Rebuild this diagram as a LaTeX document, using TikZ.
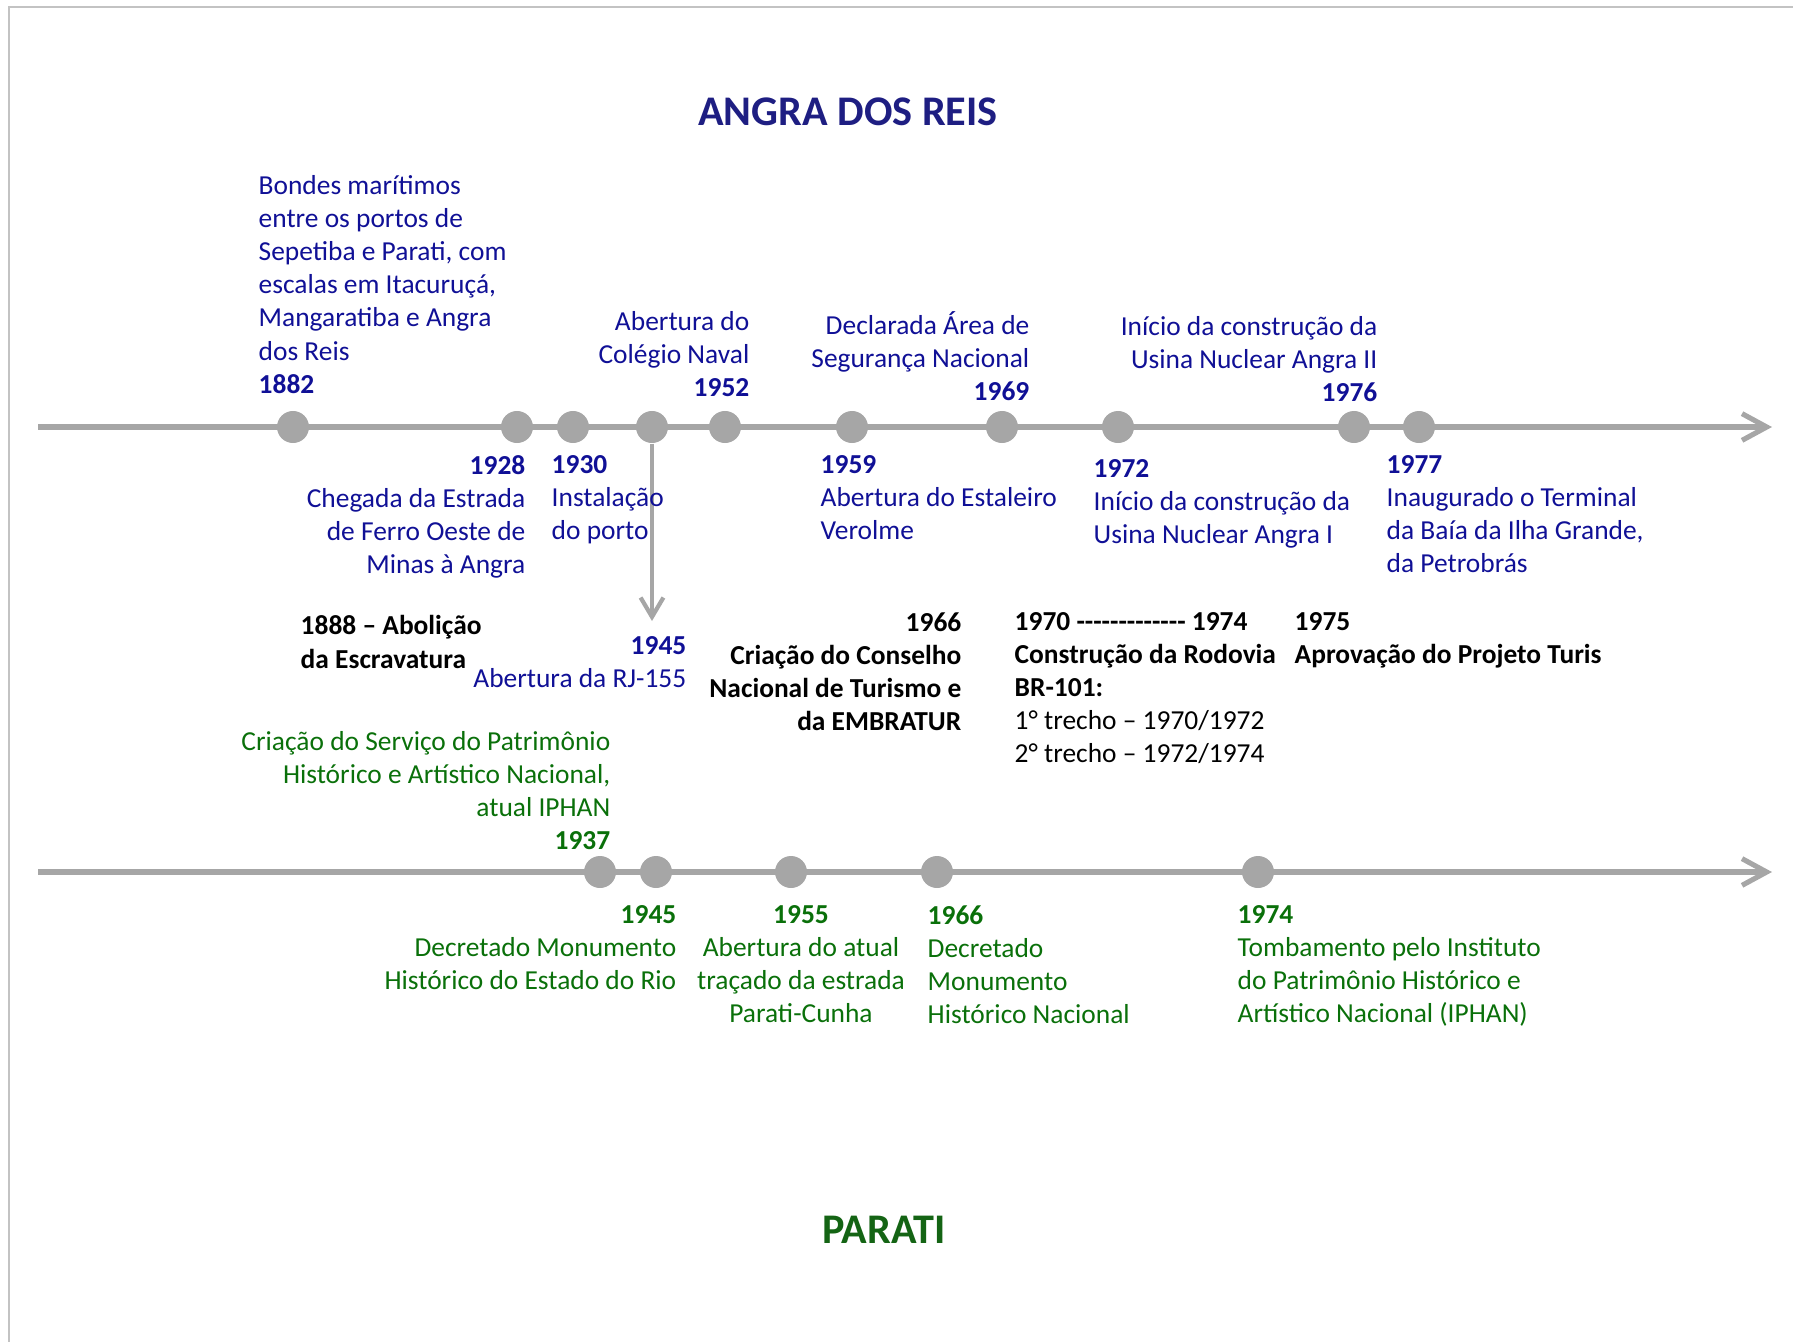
\documentclass[tikz,border=0pt]{standalone}
\usepackage{fontspec}
\setmainfont{Carlito}
\usetikzlibrary{positioning, calc, arrows.meta}

\definecolor{angrablue}{RGB}{16,16,150}
\definecolor{paratigreen}{RGB}{10,112,10}
\definecolor{titleblue}{RGB}{30,30,130}
\definecolor{titlegreen}{RGB}{20,100,20}
\definecolor{linegray}{RGB}{166,166,166}
\definecolor{framegray}{RGB}{195,195,195}

\begin{document}
\begin{tikzpicture}[
    x=0.01cm, y=-0.01cm,
    txt/.style={inner sep=0pt, yshift=-0.4mm, font=\fontsize{7.8}{9.4}\selectfont},
    ang/.style={txt, text=angrablue},
    par/.style={txt, text=paratigreen},
    blk/.style={txt, text=black, font=\fontsize{7.8}{9.4}\selectfont\bfseries},
    title/.style={inner sep=0pt, font=\fontsize{12}{14}\selectfont\bfseries},
    dot/.style={circle, fill=linegray, minimum size=0.32cm, inner sep=0pt},
    axis/.style={linegray, line width=1.45pt, -{Straight Barb[length=7pt, width=7.6pt]}},
    drop/.style={linegray, line width=1.2pt, -{Straight Barb[length=5.5pt, width=6.5pt]}}
  ]
  \useasboundingbox (0,0) rectangle (1793,1342);
  \draw[framegray, line width=0.6pt] (9,1342) -- (9,7) -- (1793,7);

  % --- Titles ---
  \node[title, text=titleblue] (angra) at (848,112) {ANGRA DOS REIS};
  \node[title, text=titlegreen] (parati) at (884,1230) {PARATI};

  % --- Axes ---
  \coordinate (a0) at (38,427);
  \coordinate (a1) at (1772,427);
  \coordinate (p0) at (38,872);
  \coordinate (p1) at (1772,872);
  \draw[axis] (a0) -- (a1);
  \draw[axis] (p0) -- (p1);

  % --- Angra markers ---
  \node[dot] (a1882) at (293,427) {};
  \node[dot] (a1928) at (517,427) {};
  \node[dot] (a1930) at (573,427) {};
  \node[dot] (a1945) at (652,427) {};
  \node[dot] (a1952) at (725,427) {};
  \node[dot] (a1959) at (852,427) {};
  \node[dot] (a1969) at (1002,427) {};
  \node[dot] (a1972) at (1118,427) {};
  \node[dot] (a1976) at (1354,427) {};
  \node[dot] (a1977) at (1419,427) {};

  % --- Parati markers ---
  \node[dot] (p1937) at (600,872) {};
  \node[dot] (p1945) at (656,872) {};
  \node[dot] (p1955) at (791,872) {};
  \node[dot] (p1966) at (937,872) {};
  \node[dot] (p1974) at (1258,872) {};

  \coordinate (rj155) at (652,621);
  \draw[drop] (a1945.south) -- (rj155);

  % --- Angra events ---
  \node[ang, anchor=north west, align=left] (t1882) at (258,171)
    {Bondes marítimos\\entre os portos de\\Sepetiba e Parati, com\\escalas em Itacuruçá,\\Mangaratiba e Angra\\dos Reis\\\textbf{1882}};
  \node[ang, anchor=north east, align=right] (t1952) at (750,307)
    {Abertura do\\Colégio Naval\\\textbf{1952}};
  \node[ang, anchor=north east, align=right] (t1969) at (1030,307)
    {Declarada Área de\\Segurança Nacional\\\textbf{1969}};
  \node[ang, anchor=north east, align=right] (t1976) at (1378,312)
    {Início da construção da\\Usina Nuclear Angra II\\\textbf{1976}};

  \node[ang, anchor=north east, align=right] (t1928) at (526,451)
    {\textbf{1928}\\Chegada da Estrada\\de Ferro Oeste de\\Minas à Angra};
  \node[ang, anchor=north west, align=left] (t1930) at (551,451)
    {\textbf{1930}\\Instalação\\do porto};
  \node[ang, anchor=north west, align=left] (t1959) at (820,451)
    {\textbf{1959}\\Abertura do Estaleiro\\Verolme};
  \node[ang, anchor=north west, align=left] (t1972) at (1093,455)
    {\textbf{1972}\\Início da construção da\\Usina Nuclear Angra I};
  \node[ang, anchor=north west, align=left] (t1977) at (1386,451)
    {\textbf{1977}\\Inaugurado o Terminal\\da Baía da Ilha Grande,\\da Petrobrás};

  \node[ang, anchor=north east, align=right] (t1945) at (687,632)
    {\textbf{1945}\\Abertura da RJ-155};

  % --- National events ---
  \node[blk, anchor=north west, align=left] (n1888) at (300,611)
    {1888 – Abolição\\da Escravatura};
  \node[blk, anchor=north east, align=right] (n1966) at (962,608)
    {1966\\Criação do Conselho\\Nacional de Turismo e\\da EMBRATUR};
  \node[txt, anchor=north west, align=left] (n1970) at (1014,608)
    {\textbf{1970 -{}-{}-{}-{}-{}-{}-{}-{}-{}-{}-{}-{}- 1974}\\\textbf{Construção da Rodovia}\\\textbf{BR-101:}\\1° trecho – 1970/1972\\2° trecho – 1972/1974};
  \node[blk, anchor=north west, align=left] (n1975) at (1294,608)
    {1975\\Aprovação do Projeto Turis};

  % --- Parati events ---
  \node[par, anchor=north east, align=right] (t1937) at (611,727)
    {Criação do Serviço do Patrimônio\\Histórico e Artístico Nacional,\\atual IPHAN\\\textbf{1937}};
  \node[par, anchor=north east, align=right] (t1945p) at (677,901)
    {\textbf{1945}\\Decretado Monumento\\Histórico do Estado do Rio};
  \node[par, anchor=north, align=center] (t1955) at (801,901)
    {\textbf{1955}\\Abertura do atual\\traçado da estrada\\Parati-Cunha};
  \node[par, anchor=north west, align=left] (t1966) at (927,901)
    {\textbf{1966}\\Decretado\\Monumento\\Histórico Nacional};
  \node[par, anchor=north west, align=left] (t1974) at (1237,901)
    {\textbf{1974}\\Tombamento pelo Instituto\\do Patrimônio Histórico e\\Artístico Nacional (IPHAN)};

\end{tikzpicture}
\end{document}
